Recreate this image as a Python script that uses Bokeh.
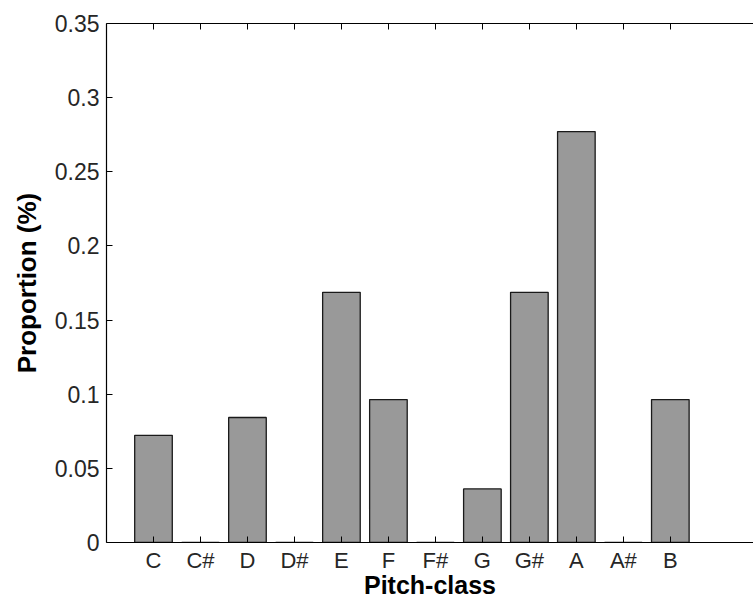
from bokeh.plotting import figure
from bokeh.models import LinearAxis, FixedTicker, Range1d
from bokeh.embed import file_html
from bokeh.resources import INLINE

categories = ["C", "C#", "D", "D#", "E", "F", "F#", "G", "G#", "A", "A#", "B"]
proportions = [0.0723, 0.0, 0.0843, 0.0, 0.1687, 0.0964, 0.0, 0.0361, 0.1687, 0.2771, 0.0, 0.0964]
y_ticks = [0, 0.05, 0.1, 0.15, 0.2, 0.25, 0.3, 0.35]
y_tick_labels = ["0", "0.05", "0.1", "0.15", "0.2", "0.25", "0.3", "0.35"]
x_label = "Pitch-class"
y_label = "Proportion (%)"

positions = list(range(1, len(categories) + 1))

p = figure(width=753, height=603, output_backend="svg", toolbar_location=None,
           x_range=Range1d(0, 13.77), y_range=Range1d(0, 0.35),
           x_axis_location="below", y_axis_location="left",
           min_border_left=106, min_border_right=0, min_border_top=23, min_border_bottom=61)
p.outline_line_color = None
p.background_fill_color = "white"
p.border_fill_color = "white"
p.xgrid.grid_line_color = None
p.ygrid.grid_line_color = None

p.vbar(x=positions, top=proportions, width=0.8, bottom=0,
       fill_color="#999999", line_color="#1a1a1a", line_width=1.3)

font = "Liberation Sans"

xa = p.xaxis[0]
xa.ticker = FixedTicker(ticks=positions)
xa.major_label_overrides = {pos: lab for pos, lab in zip(positions, categories)}
xa.minor_tick_line_color = None
xa.major_tick_in = 6
xa.major_tick_out = 0
xa.major_tick_line_color = "black"
xa.major_label_standoff = 5
xa.major_label_text_font = font
xa.major_label_text_font_size = "22px"
xa.major_label_text_color = "#262626"
xa.axis_label = x_label
xa.axis_label_text_font = font
xa.axis_label_text_font_style = "bold"
xa.axis_label_text_font_size = "25px"
xa.axis_label_text_color = "black"
xa.axis_label_standoff = -5
xa.axis_line_color = "black"
xa.axis_line_width = 1.2

ya = p.yaxis[0]
ya.ticker = FixedTicker(ticks=y_ticks)
ya.major_label_overrides = {t: s for t, s in zip(y_ticks, y_tick_labels)}
ya.minor_tick_line_color = None
ya.major_tick_in = 6
ya.major_tick_out = 0
ya.major_tick_line_color = "black"
ya.major_label_standoff = 7
ya.major_label_text_font = font
ya.major_label_text_font_size = "23px"
ya.major_label_text_color = "#262626"
ya.axis_label = y_label
ya.axis_label_text_font = font
ya.axis_label_text_font_style = "bold"
ya.axis_label_text_font_size = "26px"
ya.axis_label_text_color = "black"
ya.axis_label_standoff = 10
ya.axis_line_color = "black"
ya.axis_line_width = 1.2

top = LinearAxis(ticker=FixedTicker(ticks=[], minor_ticks=positions),
                 major_tick_line_color=None,
                 minor_tick_in=6, minor_tick_out=0,
                 minor_tick_line_color="black",
                 major_label_standoff=0,
                 axis_line_color="black", axis_line_width=1.2)
p.add_layout(top, "above")

open("out.html", "w").write(file_html(p, INLINE))
